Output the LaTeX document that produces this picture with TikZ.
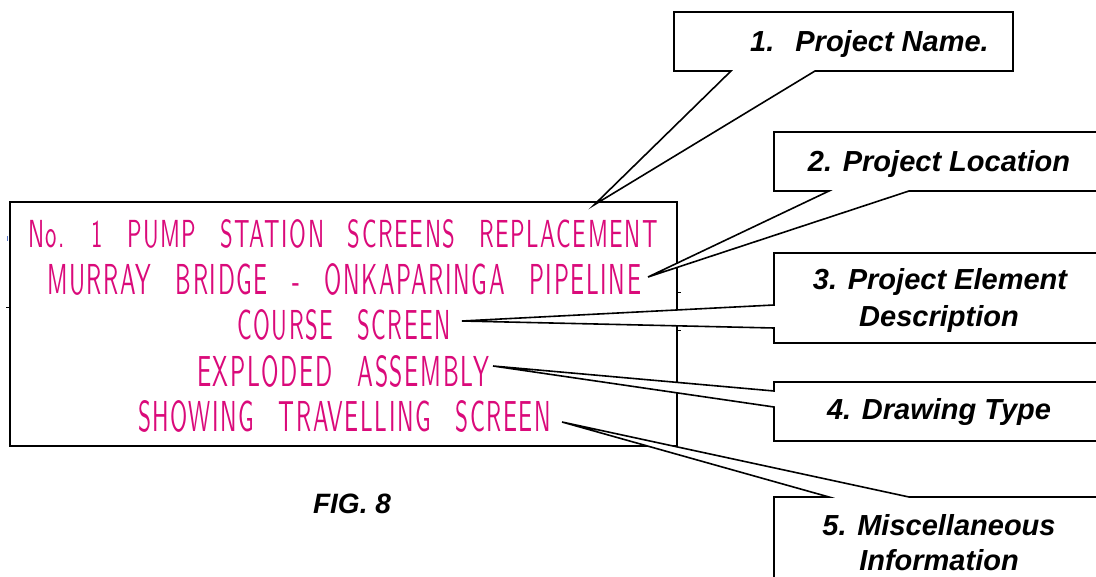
\documentclass[tikz,border=0pt]{standalone}
\usepackage{graphicx}
\usepackage{fontspec}
\setmainfont{Liberation Sans}
% thin, tracked sans for the drawing title block
\newfontfamily\cadfont[LetterSpace=7,WordSpace=2.6]{Latin Modern Sans}
\definecolor{cadpink}{RGB}{218,10,122}
\definecolor{tickblue}{RGB}{90,120,200}
% one title-block line, stretched to a given width and cap height
\newcommand{\cadline}[3]{\resizebox{#1pt}{#2pt}{\cadfont #3}}
\begin{document}
\begin{tikzpicture}[x=1pt,y=-1pt,
  frame/.style={draw=black,line width=1.7pt},
  bubble/.style={draw=black,line width=1.6pt,fill=white},
  cadtext/.style={inner sep=0pt,outer sep=0pt,anchor=south west,text=cadpink},
  label/.style={inner sep=0pt,font=\fontsize{29}{37}\selectfont\bfseries\itshape},
  tick/.style={draw=black,line width=1pt}]
\useasboundingbox (0,0) rectangle (1096,577);
\clip (0,0) rectangle (1096,577);

% title block frame
\draw[frame] (10,202) rectangle (677,446);
\draw[tick] (677,293) -- (681,293);
\draw[tick] (677,331) -- (681,331);
\draw[tick] (6,308) -- (10,308);
\draw[draw=tickblue,line width=1pt] (7,236) -- (7,241);

% title block text
\node[cadtext] (t1) at (28,248)  {\cadline{630}{28}{No. 1 PUMP STATION SCREENS REPLACEMENT}};
\node[cadtext] (t2) at (47,295)  {\cadline{594}{31}{MURRAY BRIDGE - ONKAPARINGA PIPELINE}};
\node[cadtext] (t3) at (237,340) {\cadline{214}{30}{COURSE SCREEN}};
\node[cadtext] (t4) at (197,387) {\cadline{292}{31}{EXPLODED ASSEMBLY}};
\node[cadtext] (t5) at (138,432) {\cadline{413}{31}{SHOWING TRAVELLING SCREEN}};

% pointer tips next to the title lines
\coordinate (tip1) at (594,205);
\coordinate (tip2) at (648,277);
\coordinate (tip3) at (462,321);
\coordinate (tip4) at (493,366);
\coordinate (tip5) at (562,422);

% callout bubbles
\draw[bubble] (674,12) -- (1013,12) -- (1013,71) -- (815,71) -- (tip1)
  -- (731,71) -- (674,71) -- cycle;
\draw[bubble] (774,132) -- (1105,132) -- (1105,191) -- (909,191) -- (tip2)
  -- (829,191) -- (774,191) -- cycle;
\draw[bubble] (774,253) -- (1105,253) -- (1105,343) -- (774,343) -- (774,328)
  -- (tip3) -- (774,305) -- cycle;
\draw[bubble] (774,382) -- (1105,382) -- (1105,441) -- (774,441) -- (774,407)
  -- (tip4) -- (774,391) -- cycle;
\draw[bubble] (774,497) -- (829,497) -- (tip5) -- (909,497) -- (1105,497)
  -- (1105,600) -- (774,600) -- cycle;

% callout labels
\node[label,anchor=base west] (n1) at (750,52) {1.\hspace{21pt}Project Name.};
\node[label,anchor=base] (n2) at (939,172) {2. Project Location};
\node[label,anchor=base] (n3a) at (940,290) {3. Project Element};
\node[label,anchor=base] (n3b) at (939,327) {Description};
\node[label,anchor=base] (n4) at (939,420) {4. Drawing Type};
\node[label,anchor=base] (n5a) at (939,535) {5. Miscellaneous};
\node[label,anchor=base] (n5b) at (939,570) {Information};

% figure caption
\node[inner sep=0pt,anchor=base,font=\fontsize{28}{34}\selectfont\bfseries\itshape] (fig) at (352,513) {FIG. 8};
\end{tikzpicture}
\end{document}
